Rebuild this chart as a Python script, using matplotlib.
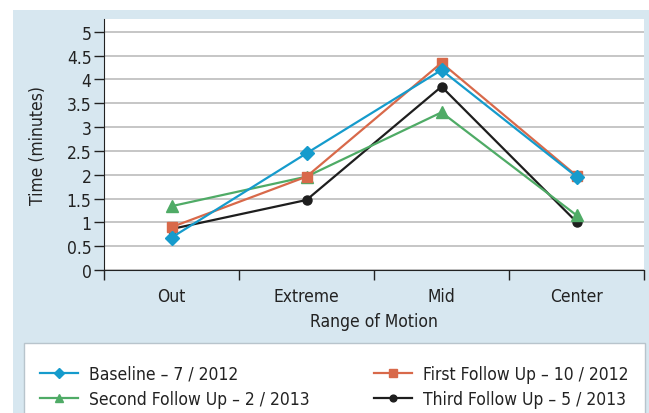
import matplotlib.pyplot as plt
from matplotlib.patches import Rectangle
import numpy as np

categories = ["Out", "Extreme", "Mid", "Center"]
baseline = [0.68, 2.45, 4.20, 1.96]
first_fu = [0.90, 1.96, 4.35, 1.98]
second_fu = [1.34, 1.96, 3.31, 1.15]
third_fu = [0.86, 1.47, 3.85, 1.01]
yticks = np.arange(0, 5.01, 0.5)
ytick_labels = ["0", "0.5", "1", "1.5", "2", "2.5", "3", "3.5", "4", "4.5", "5"]

plt.rcParams['font.family'] = ['DejaVu Sans']
plt.rcParams['font.stretch'] = 'condensed'
fs = 12.5

fig = plt.figure(figsize=(6.49, 4.14), dpi=100)
fig.patch.set_facecolor("white")
# light blue panel behind everything
fig.patches.append(Rectangle((13/649, 0), 1 - 13/649, 1 - 11/414, transform=fig.transFigure,
                             facecolor="#d7e7f0", edgecolor="none", zorder=-2))
# legend box
fig.patches.append(Rectangle((24/649, -0.01), 621/649, (414-344)/414 + 0.01, transform=fig.transFigure,
                             facecolor="white", edgecolor="#b8c4cc", lw=1.0, zorder=-1))

ax = fig.add_axes([104/649, (414-271)/414, 540/649, 251/414])
ax.set_zorder(2)
ax.set_facecolor("white")

x = np.arange(len(categories))
series = [
    (baseline, "Baseline – 7 / 2012", "#159bcc", "D", 7),
    (first_fu, "First Follow Up – 10 / 2012", "#d8694a", "s", 7),
    (second_fu, "Second Follow Up – 2 / 2013", "#4fab66", "^", 8),
    (third_fu, "Third Follow Up – 5 / 2013", "#1e1e1e", "o", 6.5),
]
handles = []
for vals, lab, col, mk, ms in series[::-1]:
    h, = ax.plot(x, vals, color=col, marker=mk, ms=ms, lw=1.6, label=lab, markeredgecolor=col)
    handles.append(h)
handles = handles[::-1]

ax.set_xlim(-0.5, 3.5)
ax.set_ylim(0, 5.27)
ax.set_yticks(yticks)
ax.set_yticklabels(ytick_labels)
ax.set_xticks(x)
ax.set_xticklabels(categories)
ax.set_xticks(np.arange(-0.5, 3.6, 1), minor=True)
ax.tick_params(axis="x", which="major", length=0, pad=12, labelsize=fs, colors="#222222")
ax.tick_params(axis="x", which="minor", length=7, width=1, direction="out", color="#222222")
ax.tick_params(axis="y", length=7, width=1, direction="out", labelsize=fs, pad=2, colors="#222222")
ax.yaxis.grid(True, color="#c6c6c6", lw=1.4)
ax.set_axisbelow(True)
for s in ["top", "right"]:
    ax.spines[s].set_visible(False)
ax.spines["left"].set_color("#222222")
ax.spines["bottom"].set_color("#222222")
ax.set_ylabel("Time (minutes)", fontsize=fs, color="#222222", labelpad=14)
ax.set_xlabel("Range of Motion", fontsize=fs, color="#222222", labelpad=5)

leg = fig.legend(handles=[handles[0], handles[2], handles[1], handles[3]],
                 labels=[series[0][1], series[2][1], series[1][1], series[3][1]],
                 loc="upper left", bbox_to_anchor=(33/649, (414-359)/414), borderaxespad=0,
                 ncol=2, frameon=False, fontsize=fs, handlelength=2.2, columnspacing=3.75,
                 handletextpad=0.6, labelspacing=0.42, markerscale=0.75)
leg.set_zorder(3)
for t in leg.get_texts():
    t.set_color("#222222")

fig.savefig("out.png", dpi=100, facecolor=fig.get_facecolor())
